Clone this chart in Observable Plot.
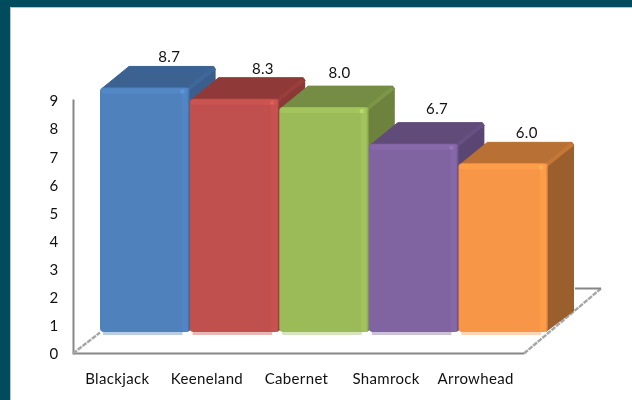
<!DOCTYPE html>
<html>
<head>
<meta charset="utf-8">
<script src="https://cdn.jsdelivr.net/npm/d3@7"></script>
<script src="https://cdn.jsdelivr.net/npm/@observablehq/plot@0.6"></script>
<style>
html,body{margin:0;padding:0;width:632px;height:400px;overflow:hidden;background:#004b5e}
#chart{position:absolute;left:10px;top:7px;width:622px;height:393px;background:#fff;box-shadow:inset 1px 1px 0 #b9c4c8}
svg{display:block;filter:blur(.35px)}
</style>
</head>
<body>
<div id="chart"></div>
<script>
const categories = ["Blackjack", "Keeneland", "Cabernet", "Shamrock", "Arrowhead"];
const values = [8.7, 8.3, 8.0, 6.7, 6.0];
const colors = ["#4f81bd", "#c0504d", "#9bbb59", "#8064a2", "#f79646"];
const topColors = ["#3b6290", "#8f3a38", "#748c43", "#604b79", "#b97034"];
const sideColors = ["#3a5f8c", "#8b3836", "#6c823d", "#5a4672", "#9a5f2c"];
const yTicks = [0, 1, 2, 3, 4, 5, 6, 7, 8, 9];

const rows = categories.map((name, i) => ({name, value: values[i]}));

// 3D projection offset of the bars' plane relative to the axis plane
const depthX = 27, depthY = 21;
const labelNudge = {Blackjack: [24, -10], Keeneland: [28, -9], Cabernet: [15, -13], Shamrock: [23, -14], Arrowhead: [23, -10]};

const NS = "http://www.w3.org/2000/svg";
function el(tag, attrs) {
  const n = document.createElementNS(NS, tag);
  for (const k in attrs) n.setAttribute(k, attrs[k]);
  return n;
}

function extrude(index, scales, vals, dims, ctx, next) {
  const g = next(index, scales, vals, dims, ctx);
  const rects = [...g.querySelectorAll("rect")];
  rects.forEach((r, i) => {
    const x = +r.getAttribute("x"), y = +r.getAttribute("y");
    const w = +r.getAttribute("width"), h = +r.getAttribute("height");
    const c = colors[i];
    const parts = [];
    parts.push(el("polygon", {
      points: `${x + w - 2},${y + 2} ${x + w + depthX - 1},${y - depthY + 3} ${x + w + depthX - 1},${y + h - depthY} ${x + w - 2},${y + h}`,
      fill: sideColors[i]}));
    parts.push(el("polygon", {
      points: `${x + 2},${y + 1} ${x + depthX + 2},${y - depthY} ${x + w + depthX - 3},${y - depthY} ${x + w + depthX - 1},${y - depthY + 3} ${x + w - 2},${y + 2}`,
      fill: topColors[i], stroke: topColors[i], "stroke-width": 1, "stroke-linejoin": "round"}));
    parts.push(el("polygon", {
      points: `${x + w - 4},${y + 1} ${x + w + depthX - 5},${y - depthY + 1} ${x + w + depthX - 1},${y - depthY + 3} ${x + w},${y + 3}`,
      fill: d3.color(topColors[i]).brighter(0.18).formatHex()}));
    parts.forEach(p => g.insertBefore(p, r));
    r.setAttribute("rx", 4);
    // soft glints along the top and right edges and a reflection below the bar
    const light = d3.color(c).brighter(0.15).formatHex();
    g.append(el("rect", {x: x + 1, y: y + 1, width: w - 3, height: 5, fill: light, rx: 3}));
    g.append(el("rect", {x: x + w - 8, y: y + 1, width: 6, height: h - 2, fill: light, opacity: 0.7}));
    g.append(el("rect", {x: x + w - 9, y: y + 2, width: 4, height: 4, fill: d3.color(c).brighter(0.5).formatHex(), opacity: 0.8}));
    g.append(el("rect", {x: x + w - 1.2, y: y + 3, width: 1.2, height: h - 4, fill: d3.color(c).darker(0.9).formatHex(), opacity: 0.6}));
    g.append(el("rect", {x: x + 3, y: y + h, width: w - 10, height: 3, fill: c, opacity: 0.4}));
  });
  return g;
}

function floor(index, scales, vals, dims, ctx, next) {
  const g = next(index, scales, vals, dims, ctx);
  const x0 = dims.marginLeft, x1 = dims.width - dims.marginRight, y0 = dims.height - dims.marginBottom;
  const style = {fill: "none", stroke: "#a6a6a6", "stroke-width": 2.4, "stroke-dasharray": "5 1"};
  g.append(el("path", {fill: "none", stroke: "#868686", "stroke-width": 2, d: `M${x1},${y0}L${x1 + 3},${y0}`}));
  g.append(el("path", {...style, d: `M${x0},${y0}L${x0 + depthX},${y0 - depthY}`}));
  g.append(el("path", {...style, d: `M${x1 + 3},${y0}L${x1 + 80},${y0 - 65}`}));
  g.append(el("path", {fill: "none", stroke: "#868686", "stroke-width": 2, d: `M${x1 + 54},${y0 - 65}L${x1 + 80},${y0 - 65}`}));
  return g;
}

const chart = Plot.plot({
  width: 622,
  height: 393,
  marginLeft: 63,
  marginRight: 111,
  marginTop: 93,
  marginBottom: 47,
  style: {fontFamily: "Lato, Carlito, sans-serif", fontSize: "15px", letterSpacing: ".35px", color: "#111", background: "transparent", overflow: "visible"},
  x: {domain: categories, padding: 0, round: false, label: null},
  y: {domain: [0, 9], label: null},
  color: {domain: categories, range: colors},
  marks: [
    Plot.frame({anchor: "left", stroke: "#868686", strokeWidth: 2, strokeOpacity: 1}),
    Plot.ruleY([0], {stroke: "#868686", strokeWidth: 2, render: floor}),
    Plot.axisY({ticks: yTicks, tickSize: 0, tickPadding: 15, dy: 1, fontSize: 15, fill: "#111", label: null}),
    Plot.axisX({tickSize: 0, tickPadding: 20, dx: -1, fontSize: 15, fill: "#111", label: null}),
    Plot.barY(rows, {x: "name", y: "value", fill: "name", dx: depthX, dy: -depthY, render: extrude}),
    ...rows.map(r => Plot.text([r], {
      x: "name", y: "value", text: d => d.value.toFixed(1), fontSize: 15, fill: "#111",
      dx: depthX + labelNudge[r.name][0], dy: -2 * depthY + labelNudge[r.name][1]
    }))
  ]
});
document.getElementById("chart").append(chart);
</script>
</body>
</html>
